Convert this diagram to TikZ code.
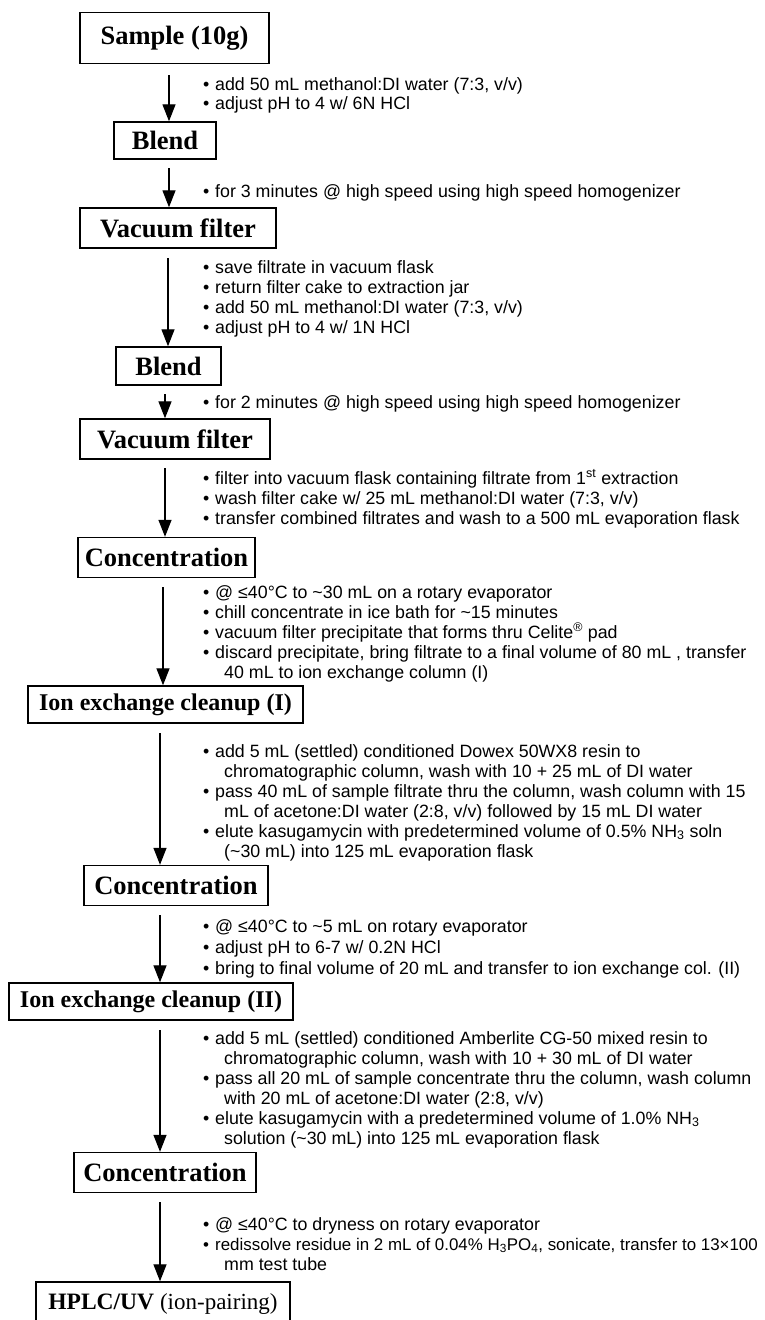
\documentclass[tikz,border=0pt]{standalone}
\usepackage{fontspec}
\setmainfont{Liberation Serif}
\setsansfont{Liberation Sans}
\usetikzlibrary{arrows.meta}
\newcommand\bitem{\makebox[12pt][l]{\textbullet}}
\begin{document}
\begin{tikzpicture}[x=1pt,y=-1pt,
  box/.style={draw, line width=1.4pt, inner sep=0pt, font=\bfseries\fontsize{26.5}{30}\selectfont},
  iebox/.style={box, font=\bfseries\fontsize{24}{27}\selectfont},
  ln/.style={anchor=base west, inner sep=0pt, font=\sffamily\fontsize{17.8}{20}\selectfont},
  arr/.style={line width=1.3pt, -{Triangle[width=13pt,length=17pt]}}]
\useasboundingbox[fill=white] (0,0) rectangle (765,1320);
% boxes
\node[box, minimum width=189pt, minimum height=51pt] (b1) at (174.5,38) {Sample (10g)};
\node[box, minimum width=102pt, minimum height=37pt] (b2) at (165,140.5) {Blend};
\node[box, minimum width=196pt, minimum height=40pt] (b3) at (178,228) {Vacuum filter};
\node[box, minimum width=105pt, minimum height=38pt] (b4) at (168.5,366) {Blend};
\node[box, minimum width=190pt, minimum height=40pt] (b5) at (175,439) {Vacuum filter};
\node[box, minimum width=177pt, minimum height=40pt] (b6) at (166.5,557.5) {Concentration};
\node[iebox, minimum width=275pt, minimum height=37pt] (b7) at (165.5,704.5) {Ion exchange cleanup (I)};
\node[box, minimum width=184pt, minimum height=40pt] (b8) at (176,885.5) {Concentration};
\node[iebox, minimum width=284pt, minimum height=37pt] (b9) at (151,1001.5) {Ion exchange cleanup (II)};
\node[box, minimum width=182pt, minimum height=40pt] (b10) at (165,1172.5) {Concentration};
\node[box, minimum width=254pt, minimum height=44pt, font=\bfseries\fontsize{23.5}{27}\selectfont] (b11) at (163,1304) {HPLC/UV {\mdseries\fontsize{23}{27}\selectfont (ion-pairing)}};
% notes
\node[ln] (n1a) at (203,90) {\bitem add 50 mL methanol:DI water (7:3, v/v)};
\node[ln] (n1b) at (203,109) {\bitem adjust pH to 4 w/ 6N HCl};
\node[ln] (n2a) at (203,197) {\bitem for 3 minutes @ high speed using high speed homogenizer};
\node[ln] (n3a) at (203,273) {\bitem save filtrate in vacuum flask};
\node[ln] (n3b) at (203,293) {\bitem return filter cake to extraction jar};
\node[ln] (n3c) at (203,313) {\bitem add 50 mL methanol:DI water (7:3, v/v)};
\node[ln] (n3d) at (203,333) {\bitem adjust pH to 4 w/ 1N HCl};
\node[ln] (n4a) at (203,408) {\bitem for 2 minutes @ high speed using high speed homogenizer};
\node[ln] (n5a) at (203,484) {\bitem filter into vacuum flask containing filtrate from 1\textsuperscript{st} extraction};
\node[ln] (n5b) at (203,504) {\bitem wash filter cake w/ 25 mL methanol:DI water (7:3, v/v)};
\node[ln] (n5c) at (203,524) {\bitem transfer combined filtrates and wash to a 500 mL evaporation flask};
\node[ln] (n6a) at (203,598) {\bitem @ ≤40°C to \textasciitilde30 mL on a rotary evaporator};
\node[ln] (n6b) at (203,618) {\bitem chill concentrate in ice bath for \textasciitilde15 minutes};
\node[ln] (n6c) at (203,638) {\bitem vacuum filter precipitate that forms thru Celite\textsuperscript{®} pad};
\node[ln] (n6d) at (203,658) {\bitem discard precipitate, bring filtrate to a final volume of 80 mL , transfer};
\node[ln] (n6e) at (224,678) {40 mL to ion exchange column (I)};
\node[ln] (n7a) at (203,757) {\bitem add 5 mL (settled) conditioned Dowex 50WX8 resin to};
\node[ln] (n7b) at (224,777) {chromatographic column, wash with 10 + 25 mL of DI water};
\node[ln] (n7c) at (203,797) {\bitem pass 40 mL of sample filtrate thru the column, wash column with 15};
\node[ln] (n7d) at (224,817) {mL of acetone:DI water (2:8, v/v) followed by 15 mL DI water};
\node[ln] (n7e) at (203,837) {\bitem elute kasugamycin with predetermined volume of 0.5\% NH\textsubscript{3} soln};
\node[ln] (n7f) at (224,857) {(\textasciitilde30 mL) into 125 mL evaporation flask};
\node[ln] (n8a) at (203,932) {\bitem @ ≤40°C to \textasciitilde5 mL on rotary evaporator};
\node[ln] (n8b) at (203,953) {\bitem adjust pH to 6-7 w/ 0.2N HCl};
\node[ln] (n8c) at (203,974) {\bitem bring to final volume of 20 mL and transfer to ion exchange col. (II)};
\node[ln] (n9a) at (203,1044) {\bitem add 5 mL (settled) conditioned Amberlite CG-50 mixed resin to};
\node[ln] (n9b) at (224,1064) {chromatographic column, wash with 10 + 30 mL of DI water};
\node[ln] (n9c) at (203,1084) {\bitem pass all 20 mL of sample concentrate thru the column, wash column};
\node[ln] (n9d) at (224,1104) {with 20 mL of acetone:DI water (2:8, v/v)};
\node[ln] (n9e) at (203,1124) {\bitem elute kasugamycin with a predetermined volume of 1.0\% NH\textsubscript{3}};
\node[ln] (n9f) at (224,1144) {solution (\textasciitilde30 mL) into 125 mL evaporation flask};
\node[ln] (n10a) at (203,1230) {\bitem @ ≤40°C to dryness on rotary evaporator};
\node[ln, font=\sffamily\fontsize{16.9}{20}\selectfont] (n10b) at (203,1250) {\bitem redissolve residue in 2 mL of 0.04\% H\textsubscript{3}PO\textsubscript{4}, sonicate, transfer to 13×100};
\node[ln] (n10c) at (224,1270) {mm test tube};
% arrow start points
\coordinate (a1) at (169,75);
\coordinate (a2) at (169,168);
\coordinate (a3) at (168,258);
\coordinate (a4) at (165,394);
\coordinate (a5) at (165,468);
\coordinate (a6) at (163,587);
\coordinate (a7) at (160,733);
\coordinate (a8) at (160,915);
\coordinate (a9) at (160,1030);
\coordinate (a10) at (160,1202);
\draw[arr] (a1) -- (a1 |- b2.north);
\draw[arr] (a2) -- (a2 |- b3.north);
\draw[arr] (a3) -- (a3 |- b4.north);
\draw[arr] (a4) -- (a4 |- b5.north);
\draw[arr] (a5) -- (a5 |- b6.north);
\draw[arr] (a6) -- (a6 |- b7.north);
\draw[arr] (a7) -- (a7 |- b8.north);
\draw[arr] (a8) -- (a8 |- b9.north);
\draw[arr] (a9) -- (a9 |- b10.north);
\draw[arr] (a10) -- (a10 |- b11.north);
\end{tikzpicture}
\end{document}
